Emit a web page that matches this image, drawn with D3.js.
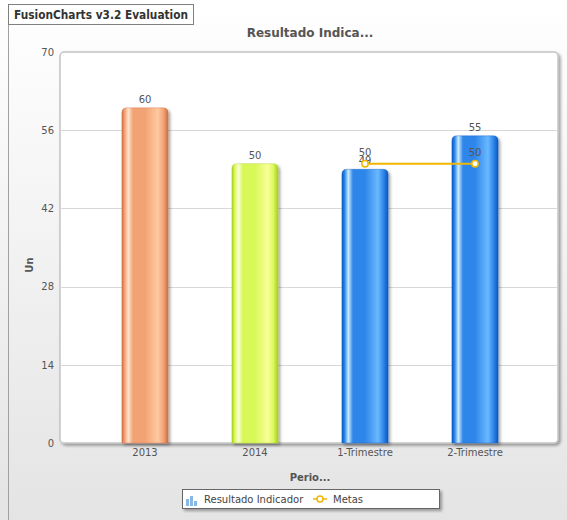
<!DOCTYPE html>
<html>
<head>
<meta charset="utf-8">
<script src="https://cdn.jsdelivr.net/npm/d3@7"></script>
<style>
  html, body { margin: 0; padding: 0; background: #fff; }
  svg { display: block; font-family: "DejaVu Sans", Verdana, sans-serif; }
</style>
</head>
<body>
<svg id="chart" width="567" height="520"></svg>
<script>
// Chart data
const categories = ["2013", "2014", "1-Trimestre", "2-Trimestre"];
const resultado = [60, 50, 49, 55];
const metas = [null, null, 50, 50];
const yTicks = [0, 14, 28, 42, 56, 70];
const barPalette = [
  ["#cc6e44", "#f2a374", "#ffe2cc", "#ffc9a0"],
  ["#a8cc20", "#d8f858", "#f8ffd0", "#f8ff98"],
  ["#0a58c0", "#2f86ea", "#c8ecff", "#6ab8ff"],
  ["#0a58c0", "#2f86ea", "#c8ecff", "#6ab8ff"]
];

const W = 567, H = 520;
const svg = d3.select("#chart");
const defs = svg.append("defs");

// Background
const bg = defs.append("linearGradient").attr("id", "bg").attr("x1", 0).attr("y1", 0).attr("x2", 0).attr("y2", 1);
bg.append("stop").attr("offset", "0%").attr("stop-color", "#ffffff");
bg.append("stop").attr("offset", "100%").attr("stop-color", "#e4e4e4");
svg.append("rect").attr("x", 0).attr("y", 0).attr("width", W).attr("height", H).attr("fill", "url(#bg)");
svg.append("line").attr("x1", 8.5).attr("x2", 8.5).attr("y1", 24).attr("y2", H).attr("stroke", "#a0a0a0");

// Shadows
const sh = defs.append("filter").attr("id", "shadow").attr("x", "-10%").attr("y", "-10%").attr("width", "130%").attr("height", "130%");
sh.append("feGaussianBlur").attr("in", "SourceAlpha").attr("stdDeviation", 1.5).attr("result", "b");
sh.append("feOffset").attr("in", "b").attr("dx", 2).attr("dy", 2).attr("result", "o");
sh.append("feComponentTransfer").attr("in", "o").attr("result", "o2")
  .append("feFuncA").attr("type", "linear").attr("slope", 0.35);
const shm = sh.append("feMerge");
shm.append("feMergeNode").attr("in", "o2");
shm.append("feMergeNode").attr("in", "SourceGraphic");

// Layout
const plot = { left: 60, right: 558, top: 52, bottom: 443 };
const x = d3.scaleBand().domain(categories).range([90, 530]).paddingInner(0.58).paddingOuter(0.29);
const y = d3.scaleLinear().domain([0, 70]).range([plot.bottom, plot.top]);

// Canvas
svg.append("rect")
  .attr("x", plot.left).attr("y", plot.top)
  .attr("width", plot.right - plot.left).attr("height", plot.bottom - plot.top)
  .attr("rx", 4).attr("ry", 4)
  .attr("fill", "#ffffff").attr("stroke", "#c4c4c4").attr("stroke-width", 1.5)
  .attr("filter", "url(#shadow)");

// Gridlines
svg.append("g").selectAll("line").data(yTicks.filter(t => t > 0 && t < 70)).join("line")
  .attr("x1", plot.left).attr("x2", plot.right)
  .attr("y1", d => Math.round(y(d)) + 0.5).attr("y2", d => Math.round(y(d)) + 0.5)
  .attr("stroke", "#d8d8d8").attr("stroke-width", 1);

// Y axis
const yAxis = d3.axisLeft(y).tickValues(yTicks).tickSize(0).tickPadding(4);
const gy = svg.append("g").attr("transform", `translate(${plot.left - 2},0)`).call(yAxis);
gy.select(".domain").remove();
gy.selectAll("text").attr("fill", "#555").style("font-size", "10px").style("font-family", "DejaVu Sans, Verdana, sans-serif");

// X axis
const xAxis = d3.axisBottom(x).tickSize(0).tickPadding(6);
const gx = svg.append("g").attr("transform", `translate(0,${plot.bottom})`).call(xAxis);
gx.select(".domain").remove();
gx.selectAll("text").attr("fill", "#555").style("font-size", "10px").style("font-family", "DejaVu Sans, Verdana, sans-serif");

// Bar gradients
barPalette.forEach((c, i) => {
  const g = defs.append("linearGradient").attr("id", "bar" + i).attr("x1", 0).attr("x2", 1).attr("y1", 0).attr("y2", 0);
  [[0, c[0]], [0.06, c[1]], [0.14, c[2]], [0.24, c[1]], [0.5, c[1]], [0.78, c[3]], [0.9, c[1]], [1, c[0]]]
    .forEach(([o, col]) => g.append("stop").attr("offset", o).attr("stop-color", col));
});

// Bars with rounded tops
function barPath(x0, w, top, bottom, r) {
  return `M${x0},${bottom} V${top + r} Q${x0},${top} ${x0 + r},${top} H${x0 + w - r} Q${x0 + w},${top} ${x0 + w},${top + r} V${bottom} Z`;
}
svg.append("g").selectAll("path").data(resultado).join("path")
  .attr("d", (d, i) => barPath(x(categories[i]), x.bandwidth(), y(d), plot.bottom, 5))
  .attr("fill", (d, i) => `url(#bar${i})`)
  .attr("stroke", (d, i) => barPalette[i][0]).attr("stroke-width", 0.6).attr("stroke-opacity", 0.6)
  .attr("filter", "url(#shadow)");

// Bar value labels
svg.append("g").selectAll("text").data(resultado).join("text")
  .attr("x", (d, i) => x(categories[i]) + x.bandwidth() / 2)
  .attr("y", d => y(d) - 5)
  .attr("text-anchor", "middle").attr("fill", "#555").style("font-size", "10px")
  .text(d => d);

// Metas line
const metaPts = metas.map((v, i) => ({ v, c: categories[i] })).filter(d => d.v !== null);
const cx = d => x(d.c) + x.bandwidth() / 2;
svg.append("path").datum(metaPts)
  .attr("d", d3.line().x(cx).y(d => y(d.v)))
  .attr("fill", "none").attr("stroke", "#f2b600").attr("stroke-width", 2);
svg.append("g").selectAll("circle").data(metaPts).join("circle")
  .attr("cx", cx).attr("cy", d => y(d.v)).attr("r", 3.2)
  .attr("fill", "#ffffff").attr("stroke", "#f2b600").attr("stroke-width", 1.5);
svg.append("g").selectAll("text").data(metaPts).join("text")
  .attr("x", cx).attr("y", d => y(d.v) - 8)
  .attr("text-anchor", "middle").attr("fill", "#555").style("font-size", "10px")
  .text(d => d.v);

// Titles
svg.append("text").attr("x", 310).attr("y", 37).attr("text-anchor", "middle")
  .attr("fill", "#555").style("font-size", "12px").style("font-weight", "bold").text("Resultado Indica...");
svg.append("text").attr("x", 310).attr("y", 481).attr("text-anchor", "middle")
  .attr("fill", "#555").style("font-size", "10px").style("font-weight", "bold").text("Perio...");
svg.append("text").attr("transform", "translate(33,265) rotate(-90)").attr("text-anchor", "middle")
  .attr("fill", "#555").style("font-size", "10px").style("font-weight", "bold").text("Un");

// Evaluation badge
svg.append("rect").attr("x", 8.5).attr("y", 4.5).attr("width", 185).attr("height", 20)
  .attr("fill", "#ffffff").attr("stroke", "#808080");
svg.append("text").attr("x", 14).attr("y", 19).attr("fill", "#333")
  .attr("textLength", 174).attr("lengthAdjust", "spacingAndGlyphs")
  .style("font-size", "12px").style("font-weight", "bold").text("FusionCharts v3.2 Evaluation");

// Legend
const lg = svg.append("g").attr("transform", "translate(182,489)");
lg.append("rect").attr("x", 0.5).attr("y", 0.5).attr("width", 257).attr("height", 19)
  .attr("fill", "#ffffff").attr("stroke", "#666").attr("stroke-width", 1).attr("filter", "url(#shadow)");
const icon = lg.append("g").attr("transform", "translate(4,4)");
[[0, 6, 7], [4, 3, 10], [8, 8, 5]].forEach(([dx, dy, h]) =>
  icon.append("rect").attr("x", dx).attr("y", dy).attr("width", 3).attr("height", h).attr("fill", "#8ab8e6"));
lg.append("text").attr("x", 22).attr("y", 13.5).attr("fill", "#444").style("font-size", "10px").text("Resultado Indicador");
lg.append("line").attr("x1", 131).attr("x2", 145).attr("y1", 10).attr("y2", 10).attr("stroke", "#f2b600").attr("stroke-width", 1.5);
lg.append("circle").attr("cx", 138).attr("cy", 10).attr("r", 3).attr("fill", "#fff").attr("stroke", "#f2b600").attr("stroke-width", 1.5);
lg.append("text").attr("x", 151).attr("y", 13.5).attr("fill", "#444").style("font-size", "10px").text("Metas");
</script>
</body>
</html>
